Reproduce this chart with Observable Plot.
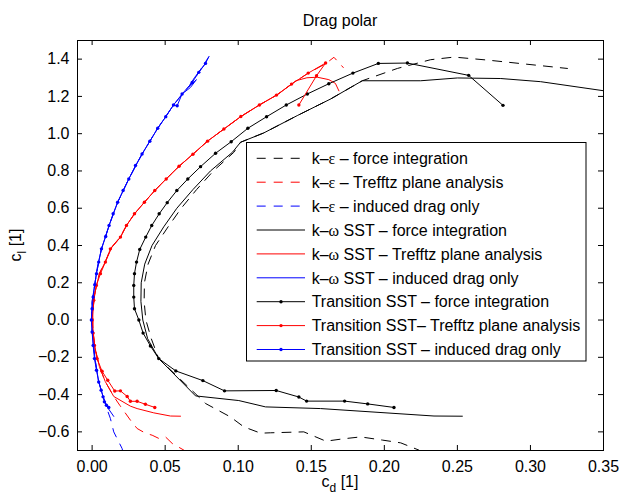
<!DOCTYPE html>
<html>
<head>
<meta charset="utf-8">
<script src="https://cdn.jsdelivr.net/npm/d3@7"></script>
<script src="https://cdn.jsdelivr.net/npm/@observablehq/plot@0.6"></script>
<style>
  html, body { margin: 0; padding: 0; background: #ffffff; }
  #chart { width: 619px; height: 498px; }
</style>
</head>
<body>
<div id="chart"></div>
<script>
// ---------- tick labels ----------
const xTicks = [0, 0.05, 0.1, 0.15, 0.2, 0.25, 0.3, 0.35];
const yTicks = [-0.6, -0.4, -0.2, 0, 0.2, 0.4, 0.6, 0.8, 1, 1.2, 1.4];

// ---------- series names (legend order) ----------
const seriesNames = [
  "k–ε – force integration",
  "k–ε – Trefftz plane analysis",
  "k–ε – induced drag only",
  "k–ω SST – force integration",
  "k–ω SST – Trefftz plane analysis",
  "k–ω SST – induced drag only",
  "Transition SST – force integration",
  "Transition SST– Trefftz plane analysis",
  "Transition SST – induced drag only"
];

// ---------- series values: [c_d, c_l] ----------
const keForce = [
  [0.226,-0.71],[0.2237,-0.698],[0.2112,-0.659],[0.1986,-0.644],[0.1838,-0.627],[0.1712,-0.638],
  [0.160,-0.650],[0.1449,-0.600],[0.1222,-0.605],[0.1153,-0.607],[0.1038,-0.573],[0.0947,-0.52],
  [0.0777,-0.448],[0.0456,-0.207],[0.0405,-0.10],[0.0368,0.0],[0.0356,0.1],[0.0358,0.2],
  [0.0383,0.3],[0.0434,0.4],[0.052,0.5],[0.061,0.6],[0.0715,0.7],[0.083,0.8],[0.097,0.9],
  [0.1016,0.954],[0.1175,1.004],[0.1404,1.097],[0.1632,1.186],[0.1849,1.284],[0.2089,1.35],
  [0.2317,1.397],[0.2477,1.411],[0.2705,1.395],[0.3253,1.35]
];
const keTrefftz = [
  [0.065,-0.71],[0.0628,-0.698],[0.0548,-0.662],[0.0502,-0.627],[0.0456,-0.635],[0.0411,-0.618],
  [0.0365,-0.607],[0.0308,-0.582],[0.0262,-0.537],[0.0189,-0.457],[0.0148,-0.41],[0.009,-0.33],
  [0.005,-0.25],[0.002,-0.15],[0.0005,-0.05],[0.0005,0.05],[0.002,0.15],[0.005,0.25],
  [0.0093,0.32],[0.0132,0.39],[0.0192,0.445],[0.0235,0.507],[0.029,0.57],[0.0358,0.632],
  [0.0429,0.695],[0.0507,0.757],[0.0595,0.825],[0.069,0.89],[0.079,0.96],[0.0902,1.025],
  [0.1018,1.092],[0.1145,1.154],[0.1262,1.207],[0.1365,1.266],[0.1479,1.325],[0.1598,1.375],
  [0.1655,1.41],[0.1719,1.355]
];
const keInduced = [
  [0.0212,-0.71],[0.0205,-0.689],[0.0148,-0.6],[0.0125,-0.528],[0.0103,-0.48],[0.0075,-0.41],
  [0.0045,-0.33],[0.002,-0.21],[0.0005,-0.1],[-0.0005,0],[0,0.1],[0.0018,0.19],[0.003,0.25],
  [0.0064,0.382],[0.0116,0.507],[0.0175,0.632],[0.0251,0.757],[0.0342,0.891],[0.0449,1.029],
  [0.0557,1.154],[0.0685,1.275],[0.0799,1.413]
];
const kwForce = [
  [0.2534,-0.516],[0.234,-0.515],[0.1564,-0.475],[0.1187,-0.466],[0.1004,-0.432],[0.0708,-0.407],
  [0.0456,-0.207],[0.038,-0.1],[0.0347,0],[0.0334,0.1],[0.0336,0.2],[0.036,0.3],[0.041,0.4],
  [0.049,0.5],[0.058,0.6],[0.069,0.7],[0.081,0.8],[0.096,0.9],[0.1016,0.954],[0.1175,1.004],
  [0.1404,1.097],[0.1632,1.186],[0.1849,1.284],[0.2249,1.284],[0.25,1.299],[0.2797,1.296],
  [0.307,1.279],[0.3504,1.23],[0.36,1.21]
];
const kwTrefftz = [
  [0.0605,-0.516],[0.0536,-0.515],[0.0422,-0.498],[0.0308,-0.475],[0.0262,-0.462],[0.0148,-0.41],
  [0.009,-0.33],[0.005,-0.25],[0.002,-0.15],[0.0005,-0.05],[0.0005,0.05],[0.002,0.15],[0.005,0.25],
  [0.0095,0.32],[0.0135,0.39],[0.0194,0.445],[0.0235,0.507],[0.029,0.57],[0.0358,0.632],
  [0.0429,0.695],[0.0507,0.757],[0.0595,0.825],[0.069,0.89],[0.079,0.96],[0.0902,1.025],
  [0.1018,1.092],[0.1145,1.154],[0.127,1.21],[0.1365,1.266],[0.1394,1.284],[0.147,1.300],
  [0.1541,1.303],[0.162,1.290],[0.1665,1.270],[0.1689,1.23]
];
const kwInduced = [
  [0.0148,-0.517],[0.0103,-0.466],[0.0075,-0.41],[0.0045,-0.33],[0.002,-0.21],[0.0005,-0.1],
  [-0.0005,0],[0,0.1],[0.0018,0.19],[0.0035,0.28],[0.0064,0.382],[0.0116,0.507],[0.0175,0.632],
  [0.0251,0.757],[0.0342,0.891],[0.0449,1.029],[0.0504,1.091],[0.0557,1.154],[0.0616,1.213],
  [0.0673,1.248],[0.0714,1.29],[0.066,1.25],[0.070,1.30],[0.0776,1.377],[0.0799,1.413]
];
const trForce = [
  [0.2066,-0.469],[0.1886,-0.45],[0.1728,-0.435],[0.1468,-0.435],[0.1415,-0.413],[0.126,-0.378],
  [0.0906,-0.38],[0.0758,-0.325],[0.0573,-0.273],[0.0456,-0.207],[0.0399,-0.139],[0.0349,-0.07],
  [0.032,0],[0.029,0.061],[0.0285,0.123],[0.0285,0.186],[0.029,0.249],[0.0304,0.311],[0.0326,0.379],
  [0.0367,0.445],[0.0408,0.507],[0.0459,0.57],[0.0514,0.63],[0.058,0.695],[0.0655,0.757],
  [0.0742,0.823],[0.0845,0.895],[0.0952,0.957],[0.1066,1.029],[0.1194,1.091],[0.1329,1.154],
  [0.1473,1.213],[0.162,1.268],[0.1785,1.325],[0.1959,1.377],[0.2158,1.379],[0.2577,1.313],
  [0.2812,1.152]
];
const trTrefftz = [
  [0.0429,-0.469],[0.0365,-0.452],[0.0308,-0.436],[0.0262,-0.436],[0.024,-0.41],[0.0194,-0.38],
  [0.0155,-0.381],[0.0107,-0.323],[0.0068,-0.275],[0.0034,-0.207],[0.0016,-0.136],[0.0007,-0.07],
  [0,0],[0.0011,0.106],[0.0029,0.186],[0.0057,0.249],[0.0091,0.311],[0.0125,0.382],[0.0194,0.445],
  [0.0235,0.507],[0.029,0.57],[0.0358,0.632],[0.0429,0.695],[0.0507,0.757],[0.0595,0.825],
  [0.069,0.89],[0.079,0.96],[0.0902,1.025],[0.1018,1.092],[0.1145,1.154],[0.1262,1.207],
  [0.1365,1.266],[0.1479,1.325],[0.1598,1.379],[0.1536,1.311],[0.1415,1.154]
];
const trInduced = [
  [0.0114,-0.469],[0.0098,-0.457],[0.0084,-0.439],[0.0075,-0.412],[0.0062,-0.377],[0.0045,-0.332],
  [0.003,-0.269],[0.0016,-0.207],[0.0007,-0.136],[0,-0.064],[-0.0005,0],[0,0.061],[0.0007,0.123],
  [0.0018,0.19],[0.003,0.249],[0.0045,0.311],[0.0064,0.382],[0.0093,0.448],[0.0116,0.507],
  [0.0144,0.57],[0.0175,0.632],[0.0212,0.695],[0.0251,0.757],[0.0297,0.829],[0.0342,0.891],
  [0.0395,0.959],[0.0449,1.029],[0.0504,1.091],[0.0557,1.154],[0.0582,1.15],[0.0616,1.213],
  [0.0685,1.275],[0.073,1.329],[0.0776,1.377]
];

// ---------- styling (not data) ----------
const seriesData = [keForce, keTrefftz, keInduced, kwForce, kwTrefftz, kwInduced, trForce, trTrefftz, trInduced];
const seriesColor = ["#000000","#ff0000","#0000ff","#000000","#ff0000","#0000ff","#000000","#ff0000","#0000ff"];
const seriesDash  = ["9,8","9,8","9,8",null,null,null,null,null,null];
const seriesDots  = [false,false,false,false,false,false,true,true,true];

const W = 619, H = 498;
const mL = 77, mR = 16, mT = 40, mB = 48;
const frameW = W - mL - mR, frameH = H - mT - mB;
const FONT = "'Liberation Sans', Arial, Helvetica, sans-serif";

const marks = [];
seriesData.forEach((data, i) => {
  marks.push(Plot.line(data, {
    x: d => d[0], y: d => d[1],
    stroke: seriesColor[i], strokeWidth: 1,
    strokeDasharray: seriesDash[i] ?? undefined,
    clip: true
  }));
  if (seriesDots[i]) {
    marks.push(Plot.dot(data, {
      x: d => d[0], y: d => d[1], r: 1.7,
      fill: seriesColor[i], stroke: null, clip: true
    }));
  }
});
// inward ticks on all four sides (MATLAB box style)
marks.push(Plot.tickX(xTicks, {x: d => d, insetTop: frameH - 5, stroke: "#000"}));
marks.push(Plot.tickX(xTicks, {x: d => d, insetBottom: frameH - 5, stroke: "#000"}));
marks.push(Plot.tickY(yTicks, {y: d => d, insetRight: frameW - 5, stroke: "#000"}));
marks.push(Plot.tickY(yTicks, {y: d => d, insetLeft: frameW - 5, stroke: "#000"}));
marks.push(Plot.frame({stroke: "#000", strokeWidth: 1}));

const plot = Plot.plot({
  width: W, height: H,
  marginLeft: mL, marginRight: mR, marginTop: mT, marginBottom: mB,
  style: {fontFamily: FONT, fontSize: "16px", background: "#ffffff", color: "#000000", overflow: "visible"},
  x: {domain: [-0.01, 0.35], ticks: xTicks, tickSize: 0, tickPadding: 10, label: null},
  y: {domain: [-0.7, 1.5], ticks: yTicks, tickSize: 0, tickPadding: 8, label: null},
  marks
});
document.getElementById("chart").appendChild(plot);

// ---------- title, axis labels, legend ----------
const svg = d3.select(plot);
svg.append("text")
  .attr("x", mL + frameW / 2).attr("y", 26)
  .attr("text-anchor", "middle")
  .attr("font-family", FONT).attr("font-size", 16).attr("fill", "#000")
  .text("Drag polar");

const xl = svg.append("text")
  .attr("x", mL + frameW / 2).attr("y", 487)
  .attr("text-anchor", "middle")
  .attr("font-family", FONT).attr("font-size", 16).attr("fill", "#000");
xl.append("tspan").text("c");
xl.append("tspan").attr("dy", 5).attr("font-size", 12).text("d");
xl.append("tspan").attr("dy", -5).text(" [1]");

const yl = svg.append("text")
  .attr("transform", `translate(21,${mT + frameH / 2}) rotate(-90)`)
  .attr("text-anchor", "middle")
  .attr("font-family", FONT).attr("font-size", 16).attr("fill", "#000");
yl.append("tspan").text("c");
yl.append("tspan").attr("dy", 5).attr("font-size", 12).text("l");
yl.append("tspan").attr("dy", -5).text(" [1]");

// legend
const LX = 246.5, LY = 142.5, LW = 339.5, LH = 218.5, rowH = 23.9, row0 = 158.3;
const lg = svg.append("g").attr("text-anchor", "start");
lg.append("rect").attr("x", LX).attr("y", LY).attr("width", LW).attr("height", LH)
  .attr("fill", "#fff").attr("stroke", "#000").attr("stroke-width", 1);
seriesNames.forEach((name, i) => {
  const cy = row0 + i * rowH;
  lg.append("line").attr("x1", 256.7).attr("x2", 305).attr("y1", cy).attr("y2", cy)
    .attr("stroke", seriesColor[i]).attr("stroke-width", 1)
    .attr("stroke-dasharray", seriesDash[i] ?? null);
  if (seriesDots[i]) {
    lg.append("circle").attr("cx", 281).attr("cy", cy).attr("r", 1.7).attr("fill", seriesColor[i]);
  }
  const t = lg.append("text").attr("x", 311.7).attr("y", cy + 5.7)
    .attr("text-anchor", "start")
    .attr("font-family", FONT).attr("font-size", 16).attr("fill", "#000");
  name.split(/([εω])/).forEach(part => {
    if (!part) return;
    const ts = t.append("tspan").text(part);
    if (part === "ε" || part === "ω") ts.attr("font-family", "'Liberation Serif', 'DejaVu Serif', serif");
  });
});
</script>
</body>
</html>
